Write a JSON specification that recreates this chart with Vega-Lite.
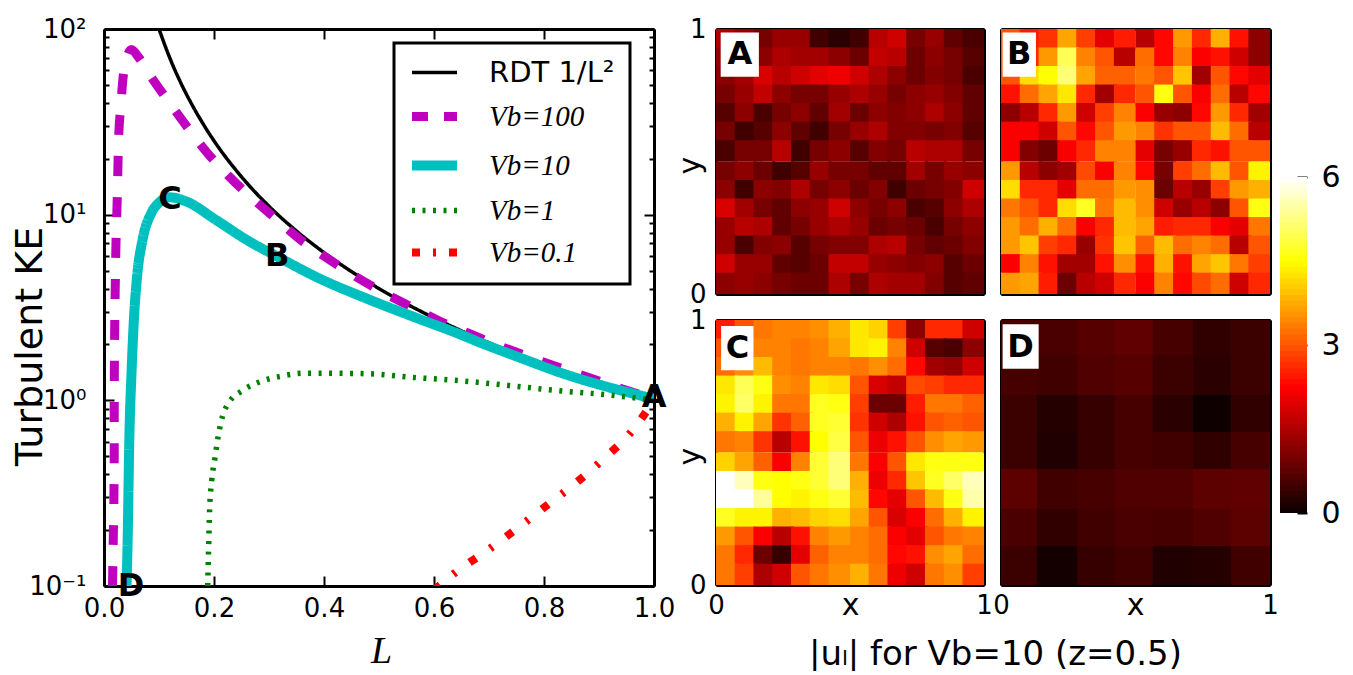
{"$schema":"https://vega.github.io/schema/vega-lite/v6.json","background":"white","padding":{"left":11,"top":16,"right":0,"bottom":0},"bounds":"flush","spacing":62,
"config":{"view":{"stroke":null},"legend":{"strokeWidth":3},"axis":{"domain":true,"domainWidth":3,"domainColor":"black","tickColor":"black","tickWidth":2,"tickSize":-10,"grid":false,"labelFontSize":26,"labelColor":"black","labelFont":"DejaVu Sans","titleFont":"DejaVu Sans","titleColor":"black","titleFontWeight":"normal","zindex":1,"labelBound":false,"labelFlush":false,"labelOverlap":false}},
"datasets":{
"bar":[{"v":0.05},{"v":0.15},{"v":0.25},{"v":0.35},{"v":0.45},{"v":0.55},{"v":0.65},{"v":0.75},{"v":0.85},{"v":0.95},{"v":1.05},{"v":1.15},{"v":1.25},{"v":1.35},{"v":1.45},{"v":1.55},{"v":1.65},{"v":1.75},{"v":1.85},{"v":1.95},{"v":2.05},{"v":2.15},{"v":2.25},{"v":2.35},{"v":2.45},{"v":2.55},{"v":2.65},{"v":2.75},{"v":2.85},{"v":2.95},{"v":3.05},{"v":3.15},{"v":3.25},{"v":3.35},{"v":3.45},{"v":3.55},{"v":3.65},{"v":3.75},{"v":3.85},{"v":3.95},{"v":4.05},{"v":4.15},{"v":4.25},{"v":4.35},{"v":4.45},{"v":4.55},{"v":4.65},{"v":4.75},{"v":4.85},{"v":4.95},{"v":5.05},{"v":5.15},{"v":5.25},{"v":5.35},{"v":5.45},{"v":5.55},{"v":5.65},{"v":5.75},{"v":5.85},{"v":5.95}],
"A":[{"x":0.04,"y":0.96,"v":1.5},{"x":0.11,"y":0.96,"v":1.3},{"x":0.18,"y":0.96,"v":1.0},{"x":0.25,"y":0.96,"v":1.3},{"x":0.32,"y":0.96,"v":1.3},{"x":0.39,"y":0.96,"v":0.5},{"x":0.46,"y":0.96,"v":0.3},{"x":0.54,"y":0.96,"v":0.5},{"x":0.61,"y":0.96,"v":1.6},{"x":0.68,"y":0.96,"v":1.8},{"x":0.75,"y":0.96,"v":1.0},{"x":0.82,"y":0.96,"v":1.3},{"x":0.89,"y":0.96,"v":0.8},{"x":0.96,"y":0.96,"v":0.6},
{"x":0.04,"y":0.89,"v":1.3},{"x":0.11,"y":0.89,"v":1.1},{"x":0.18,"y":0.89,"v":1.2},{"x":0.25,"y":0.89,"v":1.5},{"x":0.32,"y":0.89,"v":1.4},{"x":0.39,"y":0.89,"v":1.4},{"x":0.46,"y":0.89,"v":1.2},{"x":0.54,"y":0.89,"v":0.9},{"x":0.61,"y":0.89,"v":1.7},{"x":0.68,"y":0.89,"v":1.6},{"x":0.75,"y":0.89,"v":0.9},{"x":0.82,"y":0.89,"v":1.2},{"x":0.89,"y":0.89,"v":1.0},{"x":0.96,"y":0.89,"v":0.7},
{"x":0.04,"y":0.82,"v":1.2},{"x":0.11,"y":0.82,"v":1.4},{"x":0.18,"y":0.82,"v":1.9},{"x":0.25,"y":0.82,"v":1.6},{"x":0.32,"y":0.82,"v":1.8},{"x":0.39,"y":0.82,"v":2.0},{"x":0.46,"y":0.82,"v":2.1},{"x":0.54,"y":0.82,"v":1.8},{"x":0.61,"y":0.82,"v":1.5},{"x":0.68,"y":0.82,"v":1.2},{"x":0.75,"y":0.82,"v":0.9},{"x":0.82,"y":0.82,"v":1.1},{"x":0.89,"y":0.82,"v":1.0},{"x":0.96,"y":0.82,"v":0.6},
{"x":0.04,"y":0.75,"v":1.0},{"x":0.11,"y":0.75,"v":1.3},{"x":0.18,"y":0.75,"v":1.7},{"x":0.25,"y":0.75,"v":1.2},{"x":0.32,"y":0.75,"v":1.0},{"x":0.39,"y":0.75,"v":1.0},{"x":0.46,"y":0.75,"v":1.3},{"x":0.54,"y":0.75,"v":1.5},{"x":0.61,"y":0.75,"v":1.3},{"x":0.68,"y":0.75,"v":1.0},{"x":0.75,"y":0.75,"v":1.2},{"x":0.82,"y":0.75,"v":1.3},{"x":0.89,"y":0.75,"v":1.1},{"x":0.96,"y":0.75,"v":0.8},
{"x":0.04,"y":0.68,"v":0.7},{"x":0.11,"y":0.68,"v":1.2},{"x":0.18,"y":0.68,"v":0.6},{"x":0.25,"y":0.68,"v":1.0},{"x":0.32,"y":0.68,"v":1.2},{"x":0.39,"y":0.68,"v":0.8},{"x":0.46,"y":0.68,"v":1.4},{"x":0.54,"y":0.68,"v":0.9},{"x":0.61,"y":0.68,"v":1.2},{"x":0.68,"y":0.68,"v":1.1},{"x":0.75,"y":0.68,"v":1.2},{"x":0.82,"y":0.68,"v":1.5},{"x":0.89,"y":0.68,"v":1.2},{"x":0.96,"y":0.68,"v":0.8},
{"x":0.04,"y":0.61,"v":1.0},{"x":0.11,"y":0.61,"v":0.5},{"x":0.18,"y":0.61,"v":0.7},{"x":0.25,"y":0.61,"v":1.2},{"x":0.32,"y":0.61,"v":0.8},{"x":0.39,"y":0.61,"v":0.5},{"x":0.46,"y":0.61,"v":1.0},{"x":0.54,"y":0.61,"v":1.3},{"x":0.61,"y":0.61,"v":1.5},{"x":0.68,"y":0.61,"v":1.1},{"x":0.75,"y":0.61,"v":1.1},{"x":0.82,"y":0.61,"v":1.0},{"x":0.89,"y":0.61,"v":1.1},{"x":0.96,"y":0.61,"v":0.7},
{"x":0.04,"y":0.54,"v":0.6},{"x":0.11,"y":0.54,"v":1.0},{"x":0.18,"y":0.54,"v":1.0},{"x":0.25,"y":0.54,"v":1.6},{"x":0.32,"y":0.54,"v":0.5},{"x":0.39,"y":0.54,"v":1.0},{"x":0.46,"y":0.54,"v":1.2},{"x":0.54,"y":0.54,"v":0.7},{"x":0.61,"y":0.54,"v":1.1},{"x":0.68,"y":0.54,"v":1.0},{"x":0.75,"y":0.54,"v":1.6},{"x":0.82,"y":0.54,"v":1.5},{"x":0.89,"y":0.54,"v":1.5},{"x":0.96,"y":0.54,"v":1.0},
{"x":0.04,"y":0.46,"v":1.0},{"x":0.11,"y":0.46,"v":1.2},{"x":0.18,"y":0.46,"v":0.9},{"x":0.25,"y":0.46,"v":0.5},{"x":0.32,"y":0.46,"v":0.7},{"x":0.39,"y":0.46,"v":1.3},{"x":0.46,"y":0.46,"v":1.0},{"x":0.54,"y":0.46,"v":1.0},{"x":0.61,"y":0.46,"v":0.8},{"x":0.68,"y":0.46,"v":0.8},{"x":0.75,"y":0.46,"v":1.4},{"x":0.82,"y":0.46,"v":1.0},{"x":0.89,"y":0.46,"v":1.3},{"x":0.96,"y":0.46,"v":1.2},
{"x":0.04,"y":0.39,"v":1.2},{"x":0.11,"y":0.39,"v":0.5},{"x":0.18,"y":0.39,"v":1.2},{"x":0.25,"y":0.39,"v":1.1},{"x":0.32,"y":0.39,"v":1.5},{"x":0.39,"y":0.39,"v":1.0},{"x":0.46,"y":0.39,"v":1.2},{"x":0.54,"y":0.39,"v":0.9},{"x":0.61,"y":0.39,"v":1.1},{"x":0.68,"y":0.39,"v":0.5},{"x":0.75,"y":0.39,"v":0.9},{"x":0.82,"y":0.39,"v":1.0},{"x":0.89,"y":0.39,"v":1.1},{"x":0.96,"y":0.39,"v":1.8},
{"x":0.04,"y":0.32,"v":1.9},{"x":0.11,"y":0.32,"v":1.4},{"x":0.18,"y":0.32,"v":1.0},{"x":0.25,"y":0.32,"v":0.8},{"x":0.32,"y":0.32,"v":1.2},{"x":0.39,"y":0.32,"v":1.3},{"x":0.46,"y":0.32,"v":1.8},{"x":0.54,"y":0.32,"v":1.2},{"x":0.61,"y":0.32,"v":1.0},{"x":0.68,"y":0.32,"v":1.2},{"x":0.75,"y":0.32,"v":0.6},{"x":0.82,"y":0.32,"v":0.7},{"x":0.89,"y":0.32,"v":1.2},{"x":0.96,"y":0.32,"v":1.5},
{"x":0.04,"y":0.25,"v":1.3},{"x":0.11,"y":0.25,"v":1.6},{"x":0.18,"y":0.25,"v":1.5},{"x":0.25,"y":0.25,"v":0.8},{"x":0.32,"y":0.25,"v":1.0},{"x":0.39,"y":0.25,"v":1.3},{"x":0.46,"y":0.25,"v":1.5},{"x":0.54,"y":0.25,"v":1.3},{"x":0.61,"y":0.25,"v":0.9},{"x":0.68,"y":0.25,"v":1.0},{"x":0.75,"y":0.25,"v":0.9},{"x":0.82,"y":0.25,"v":0.6},{"x":0.89,"y":0.25,"v":1.0},{"x":0.96,"y":0.25,"v":1.2},
{"x":0.04,"y":0.18,"v":1.3},{"x":0.11,"y":0.18,"v":0.6},{"x":0.18,"y":0.18,"v":1.1},{"x":0.25,"y":0.18,"v":1.2},{"x":0.32,"y":0.18,"v":0.7},{"x":0.39,"y":0.18,"v":1.0},{"x":0.46,"y":0.18,"v":1.1},{"x":0.54,"y":0.18,"v":1.1},{"x":0.61,"y":0.18,"v":1.5},{"x":0.68,"y":0.18,"v":1.6},{"x":0.75,"y":0.18,"v":1.0},{"x":0.82,"y":0.18,"v":0.8},{"x":0.89,"y":0.18,"v":0.9},{"x":0.96,"y":0.18,"v":1.1},
{"x":0.04,"y":0.11,"v":1.8},{"x":0.11,"y":0.11,"v":1.3},{"x":0.18,"y":0.11,"v":1.3},{"x":0.25,"y":0.11,"v":0.8},{"x":0.32,"y":0.11,"v":0.7},{"x":0.39,"y":0.11,"v":0.9},{"x":0.46,"y":0.11,"v":1.7},{"x":0.54,"y":0.11,"v":1.7},{"x":0.61,"y":0.11,"v":1.3},{"x":0.68,"y":0.11,"v":1.2},{"x":0.75,"y":0.11,"v":1.1},{"x":0.82,"y":0.11,"v":1.2},{"x":0.89,"y":0.11,"v":0.7},{"x":0.96,"y":0.11,"v":0.9},
{"x":0.04,"y":0.04,"v":1.2},{"x":0.11,"y":0.04,"v":1.3},{"x":0.18,"y":0.04,"v":1.2},{"x":0.25,"y":0.04,"v":1.0},{"x":0.32,"y":0.04,"v":0.9},{"x":0.39,"y":0.04,"v":0.9},{"x":0.46,"y":0.04,"v":1.5},{"x":0.54,"y":0.04,"v":1.0},{"x":0.61,"y":0.04,"v":1.5},{"x":0.68,"y":0.04,"v":1.4},{"x":0.75,"y":0.04,"v":1.4},{"x":0.82,"y":0.04,"v":1.1},{"x":0.89,"y":0.04,"v":0.7},{"x":0.96,"y":0.04,"v":0.8}],
"B":[{"x":0.04,"y":0.96,"v":3.0},{"x":0.11,"y":0.96,"v":2.5},{"x":0.18,"y":0.96,"v":2.7},{"x":0.25,"y":0.96,"v":3.7},{"x":0.32,"y":0.96,"v":2.8},{"x":0.39,"y":0.96,"v":2.0},{"x":0.46,"y":0.96,"v":2.5},{"x":0.54,"y":0.96,"v":1.6},{"x":0.61,"y":0.96,"v":2.3},{"x":0.68,"y":0.96,"v":3.6},{"x":0.75,"y":0.96,"v":2.6},{"x":0.82,"y":0.96,"v":3.8},{"x":0.89,"y":0.96,"v":2.4},{"x":0.96,"y":0.96,"v":1.2},
{"x":0.04,"y":0.89,"v":3.0},{"x":0.11,"y":0.89,"v":2.6},{"x":0.18,"y":0.89,"v":3.6},{"x":0.25,"y":0.89,"v":5.0},{"x":0.32,"y":0.89,"v":3.4},{"x":0.39,"y":0.89,"v":3.0},{"x":0.46,"y":0.89,"v":1.6},{"x":0.54,"y":0.89,"v":3.2},{"x":0.61,"y":0.89,"v":2.3},{"x":0.68,"y":0.89,"v":3.4},{"x":0.75,"y":0.89,"v":2.2},{"x":0.82,"y":0.89,"v":2.4},{"x":0.89,"y":0.89,"v":1.8},{"x":0.96,"y":0.89,"v":1.2},
{"x":0.04,"y":0.82,"v":3.0},{"x":0.11,"y":0.82,"v":4.2},{"x":0.18,"y":0.82,"v":4.5},{"x":0.25,"y":0.82,"v":5.2},{"x":0.32,"y":0.82,"v":3.7},{"x":0.39,"y":0.82,"v":3.1},{"x":0.46,"y":0.82,"v":3.1},{"x":0.54,"y":0.82,"v":3.3},{"x":0.61,"y":0.82,"v":3.0},{"x":0.68,"y":0.82,"v":4.0},{"x":0.75,"y":0.82,"v":1.4},{"x":0.82,"y":0.82,"v":3.0},{"x":0.89,"y":0.82,"v":2.3},{"x":0.96,"y":0.82,"v":2.0},
{"x":0.04,"y":0.75,"v":2.4},{"x":0.11,"y":0.75,"v":3.2},{"x":0.18,"y":0.75,"v":3.7},{"x":0.25,"y":0.75,"v":4.3},{"x":0.32,"y":0.75,"v":2.6},{"x":0.39,"y":0.75,"v":1.4},{"x":0.46,"y":0.75,"v":2.6},{"x":0.54,"y":0.75,"v":3.0},{"x":0.61,"y":0.75,"v":4.6},{"x":0.68,"y":0.75,"v":3.0},{"x":0.75,"y":0.75,"v":2.2},{"x":0.82,"y":0.75,"v":3.2},{"x":0.89,"y":0.75,"v":1.6},{"x":0.96,"y":0.75,"v":2.3},
{"x":0.04,"y":0.68,"v":1.2},{"x":0.11,"y":0.68,"v":1.6},{"x":0.18,"y":0.68,"v":2.6},{"x":0.25,"y":0.68,"v":3.6},{"x":0.32,"y":0.68,"v":1.8},{"x":0.39,"y":0.68,"v":2.8},{"x":0.46,"y":0.68,"v":3.4},{"x":0.54,"y":0.68,"v":2.2},{"x":0.61,"y":0.68,"v":1.3},{"x":0.68,"y":0.68,"v":1.2},{"x":0.75,"y":0.68,"v":2.3},{"x":0.82,"y":0.68,"v":3.6},{"x":0.89,"y":0.68,"v":2.6},{"x":0.96,"y":0.68,"v":1.4},
{"x":0.04,"y":0.61,"v":2.2},{"x":0.11,"y":0.61,"v":2.2},{"x":0.18,"y":0.61,"v":1.8},{"x":0.25,"y":0.61,"v":3.0},{"x":0.32,"y":0.61,"v":2.3},{"x":0.39,"y":0.61,"v":3.0},{"x":0.46,"y":0.61,"v":3.6},{"x":0.54,"y":0.61,"v":3.4},{"x":0.61,"y":0.61,"v":2.7},{"x":0.68,"y":0.61,"v":3.0},{"x":0.75,"y":0.61,"v":3.0},{"x":0.82,"y":0.61,"v":3.9},{"x":0.89,"y":0.61,"v":3.2},{"x":0.96,"y":0.61,"v":1.6},
{"x":0.04,"y":0.54,"v":2.2},{"x":0.11,"y":0.54,"v":1.1},{"x":0.18,"y":0.54,"v":0.9},{"x":0.25,"y":0.54,"v":2.2},{"x":0.32,"y":0.54,"v":2.6},{"x":0.39,"y":0.54,"v":3.4},{"x":0.46,"y":0.54,"v":3.4},{"x":0.54,"y":0.54,"v":2.0},{"x":0.61,"y":0.54,"v":1.0},{"x":0.68,"y":0.54,"v":1.3},{"x":0.75,"y":0.54,"v":2.6},{"x":0.82,"y":0.54,"v":2.4},{"x":0.89,"y":0.54,"v":3.0},{"x":0.96,"y":0.54,"v":3.0},
{"x":0.04,"y":0.46,"v":3.6},{"x":0.11,"y":0.46,"v":1.6},{"x":0.18,"y":0.46,"v":1.2},{"x":0.25,"y":0.46,"v":1.4},{"x":0.32,"y":0.46,"v":2.9},{"x":0.39,"y":0.46,"v":2.2},{"x":0.46,"y":0.46,"v":3.4},{"x":0.54,"y":0.46,"v":2.3},{"x":0.61,"y":0.46,"v":1.0},{"x":0.68,"y":0.46,"v":2.8},{"x":0.75,"y":0.46,"v":3.2},{"x":0.82,"y":0.46,"v":3.9},{"x":0.89,"y":0.46,"v":3.0},{"x":0.96,"y":0.46,"v":4.4},
{"x":0.04,"y":0.39,"v":4.2},{"x":0.11,"y":0.39,"v":2.6},{"x":0.18,"y":0.39,"v":2.6},{"x":0.25,"y":0.39,"v":2.0},{"x":0.32,"y":0.39,"v":3.2},{"x":0.39,"y":0.39,"v":3.2},{"x":0.46,"y":0.39,"v":3.6},{"x":0.54,"y":0.39,"v":3.5},{"x":0.61,"y":0.39,"v":0.9},{"x":0.68,"y":0.39,"v":1.6},{"x":0.75,"y":0.39,"v":1.3},{"x":0.82,"y":0.39,"v":2.8},{"x":0.89,"y":0.39,"v":3.6},{"x":0.96,"y":0.39,"v":3.8},
{"x":0.04,"y":0.32,"v":3.3},{"x":0.11,"y":0.32,"v":3.0},{"x":0.18,"y":0.32,"v":2.6},{"x":0.25,"y":0.32,"v":4.2},{"x":0.32,"y":0.32,"v":4.7},{"x":0.39,"y":0.32,"v":3.3},{"x":0.46,"y":0.32,"v":3.9},{"x":0.54,"y":0.32,"v":3.5},{"x":0.61,"y":0.32,"v":1.8},{"x":0.68,"y":0.32,"v":1.3},{"x":0.75,"y":0.32,"v":1.6},{"x":0.82,"y":0.32,"v":1.2},{"x":0.89,"y":0.32,"v":3.0},{"x":0.96,"y":0.32,"v":4.6},
{"x":0.04,"y":0.25,"v":3.6},{"x":0.11,"y":0.25,"v":3.2},{"x":0.18,"y":0.25,"v":3.8},{"x":0.25,"y":0.25,"v":3.2},{"x":0.32,"y":0.25,"v":2.2},{"x":0.39,"y":0.25,"v":2.6},{"x":0.46,"y":0.25,"v":3.9},{"x":0.54,"y":0.25,"v":3.7},{"x":0.61,"y":0.25,"v":2.5},{"x":0.68,"y":0.25,"v":2.6},{"x":0.75,"y":0.25,"v":2.6},{"x":0.82,"y":0.25,"v":2.2},{"x":0.89,"y":0.25,"v":2.0},{"x":0.96,"y":0.25,"v":3.3},
{"x":0.04,"y":0.18,"v":3.6},{"x":0.11,"y":0.18,"v":4.0},{"x":0.18,"y":0.18,"v":2.8},{"x":0.25,"y":0.18,"v":2.6},{"x":0.32,"y":0.18,"v":1.3},{"x":0.39,"y":0.18,"v":2.7},{"x":0.46,"y":0.18,"v":4.0},{"x":0.54,"y":0.18,"v":3.1},{"x":0.61,"y":0.18,"v":3.9},{"x":0.68,"y":0.18,"v":3.2},{"x":0.75,"y":0.18,"v":3.4},{"x":0.82,"y":0.18,"v":3.2},{"x":0.89,"y":0.18,"v":1.6},{"x":0.96,"y":0.18,"v":3.0},
{"x":0.04,"y":0.11,"v":2.2},{"x":0.11,"y":0.11,"v":3.4},{"x":0.18,"y":0.11,"v":2.4},{"x":0.25,"y":0.11,"v":1.4},{"x":0.32,"y":0.11,"v":1.4},{"x":0.39,"y":0.11,"v":2.4},{"x":0.46,"y":0.11,"v":3.5},{"x":0.54,"y":0.11,"v":2.4},{"x":0.61,"y":0.11,"v":3.8},{"x":0.68,"y":0.11,"v":2.4},{"x":0.75,"y":0.11,"v":3.7},{"x":0.82,"y":0.11,"v":4.0},{"x":0.89,"y":0.11,"v":3.3},{"x":0.96,"y":0.11,"v":2.8},
{"x":0.04,"y":0.04,"v":3.6},{"x":0.11,"y":0.04,"v":3.7},{"x":0.18,"y":0.04,"v":2.5},{"x":0.25,"y":0.04,"v":0.9},{"x":0.32,"y":0.04,"v":1.6},{"x":0.39,"y":0.04,"v":1.8},{"x":0.46,"y":0.04,"v":2.6},{"x":0.54,"y":0.04,"v":2.2},{"x":0.61,"y":0.04,"v":3.4},{"x":0.68,"y":0.04,"v":2.3},{"x":0.75,"y":0.04,"v":2.9},{"x":0.82,"y":0.04,"v":3.2},{"x":0.89,"y":0.04,"v":1.8},{"x":0.96,"y":0.04,"v":2.6}],
"C":[{"x":0.04,"y":0.96,"v":2.5},{"x":0.11,"y":0.96,"v":3.0},{"x":0.18,"y":0.96,"v":3.3},{"x":0.25,"y":0.96,"v":3.4},{"x":0.32,"y":0.96,"v":3.4},{"x":0.39,"y":0.96,"v":3.5},{"x":0.46,"y":0.96,"v":3.8},{"x":0.54,"y":0.96,"v":4.3},{"x":0.61,"y":0.96,"v":4.1},{"x":0.68,"y":0.96,"v":2.8},{"x":0.75,"y":0.96,"v":1.2},{"x":0.82,"y":0.96,"v":2.6},{"x":0.89,"y":0.96,"v":2.6},{"x":0.96,"y":0.96,"v":1.8},
{"x":0.04,"y":0.89,"v":3.0},{"x":0.11,"y":0.89,"v":3.3},{"x":0.18,"y":0.89,"v":3.4},{"x":0.25,"y":0.89,"v":3.4},{"x":0.32,"y":0.89,"v":3.3},{"x":0.39,"y":0.89,"v":3.4},{"x":0.46,"y":0.89,"v":3.7},{"x":0.54,"y":0.89,"v":4.3},{"x":0.61,"y":0.89,"v":4.4},{"x":0.68,"y":0.89,"v":3.4},{"x":0.75,"y":0.89,"v":1.8},{"x":0.82,"y":0.89,"v":0.7},{"x":0.89,"y":0.89,"v":0.6},{"x":0.96,"y":0.89,"v":1.2},
{"x":0.04,"y":0.82,"v":3.2},{"x":0.11,"y":0.82,"v":3.5},{"x":0.18,"y":0.82,"v":3.9},{"x":0.25,"y":0.82,"v":3.4},{"x":0.32,"y":0.82,"v":3.3},{"x":0.39,"y":0.82,"v":3.4},{"x":0.46,"y":0.82,"v":3.4},{"x":0.54,"y":0.82,"v":3.3},{"x":0.61,"y":0.82,"v":3.5},{"x":0.68,"y":0.82,"v":3.2},{"x":0.75,"y":0.82,"v":2.3},{"x":0.82,"y":0.82,"v":1.4},{"x":0.89,"y":0.82,"v":1.3},{"x":0.96,"y":0.82,"v":1.8},
{"x":0.04,"y":0.75,"v":4.3},{"x":0.11,"y":0.75,"v":5.0},{"x":0.18,"y":0.75,"v":4.6},{"x":0.25,"y":0.75,"v":3.5},{"x":0.32,"y":0.75,"v":3.4},{"x":0.39,"y":0.75,"v":4.3},{"x":0.46,"y":0.75,"v":4.2},{"x":0.54,"y":0.75,"v":3.0},{"x":0.61,"y":0.75,"v":1.9},{"x":0.68,"y":0.75,"v":1.7},{"x":0.75,"y":0.75,"v":2.9},{"x":0.82,"y":0.75,"v":2.8},{"x":0.89,"y":0.75,"v":2.6},{"x":0.96,"y":0.75,"v":2.6},
{"x":0.04,"y":0.68,"v":4.4},{"x":0.11,"y":0.68,"v":5.1},{"x":0.18,"y":0.68,"v":4.4},{"x":0.25,"y":0.68,"v":3.3},{"x":0.32,"y":0.68,"v":3.3},{"x":0.39,"y":0.68,"v":4.7},{"x":0.46,"y":0.68,"v":4.6},{"x":0.54,"y":0.68,"v":2.8},{"x":0.61,"y":0.68,"v":0.9},{"x":0.68,"y":0.68,"v":0.9},{"x":0.75,"y":0.68,"v":2.5},{"x":0.82,"y":0.68,"v":3.3},{"x":0.89,"y":0.68,"v":3.3},{"x":0.96,"y":0.68,"v":3.1},
{"x":0.04,"y":0.61,"v":3.8},{"x":0.11,"y":0.61,"v":4.4},{"x":0.18,"y":0.61,"v":3.7},{"x":0.25,"y":0.61,"v":2.7},{"x":0.32,"y":0.61,"v":3.1},{"x":0.39,"y":0.61,"v":4.7},{"x":0.46,"y":0.61,"v":4.8},{"x":0.54,"y":0.61,"v":2.7},{"x":0.61,"y":0.61,"v":1.8},{"x":0.68,"y":0.61,"v":1.5},{"x":0.75,"y":0.61,"v":2.4},{"x":0.82,"y":0.61,"v":3.0},{"x":0.89,"y":0.61,"v":3.1},{"x":0.96,"y":0.61,"v":3.0},
{"x":0.04,"y":0.54,"v":3.3},{"x":0.11,"y":0.54,"v":3.4},{"x":0.18,"y":0.54,"v":2.7},{"x":0.25,"y":0.54,"v":1.6},{"x":0.32,"y":0.54,"v":2.4},{"x":0.39,"y":0.54,"v":4.5},{"x":0.46,"y":0.54,"v":4.9},{"x":0.54,"y":0.54,"v":3.0},{"x":0.61,"y":0.54,"v":2.1},{"x":0.68,"y":0.54,"v":2.4},{"x":0.75,"y":0.54,"v":3.0},{"x":0.82,"y":0.54,"v":3.5},{"x":0.89,"y":0.54,"v":3.7},{"x":0.96,"y":0.54,"v":3.6},
{"x":0.04,"y":0.46,"v":4.1},{"x":0.11,"y":0.46,"v":3.7},{"x":0.18,"y":0.46,"v":3.1},{"x":0.25,"y":0.46,"v":2.2},{"x":0.32,"y":0.46,"v":3.4},{"x":0.39,"y":0.46,"v":4.8},{"x":0.46,"y":0.46,"v":5.2},{"x":0.54,"y":0.46,"v":3.3},{"x":0.61,"y":0.46,"v":2.2},{"x":0.68,"y":0.46,"v":3.0},{"x":0.75,"y":0.46,"v":4.3},{"x":0.82,"y":0.46,"v":4.6},{"x":0.89,"y":0.46,"v":4.6},{"x":0.96,"y":0.46,"v":4.6},
{"x":0.04,"y":0.39,"v":6.0},{"x":0.11,"y":0.39,"v":5.6},{"x":0.18,"y":0.39,"v":4.6},{"x":0.25,"y":0.39,"v":4.5},{"x":0.32,"y":0.39,"v":4.6},{"x":0.39,"y":0.39,"v":4.8},{"x":0.46,"y":0.39,"v":5.2},{"x":0.54,"y":0.39,"v":3.8},{"x":0.61,"y":0.39,"v":2.1},{"x":0.68,"y":0.39,"v":2.6},{"x":0.75,"y":0.39,"v":4.0},{"x":0.82,"y":0.39,"v":4.7},{"x":0.89,"y":0.39,"v":5.1},{"x":0.96,"y":0.39,"v":5.6},
{"x":0.04,"y":0.32,"v":6.0},{"x":0.11,"y":0.32,"v":6.0},{"x":0.18,"y":0.32,"v":5.4},{"x":0.25,"y":0.32,"v":4.5},{"x":0.32,"y":0.32,"v":4.4},{"x":0.39,"y":0.32,"v":4.6},{"x":0.46,"y":0.32,"v":4.8},{"x":0.54,"y":0.32,"v":3.9},{"x":0.61,"y":0.32,"v":2.3},{"x":0.68,"y":0.32,"v":2.0},{"x":0.75,"y":0.32,"v":3.0},{"x":0.82,"y":0.32,"v":3.9},{"x":0.89,"y":0.32,"v":4.6},{"x":0.96,"y":0.32,"v":5.5},
{"x":0.04,"y":0.25,"v":4.7},{"x":0.11,"y":0.25,"v":4.4},{"x":0.18,"y":0.25,"v":4.4},{"x":0.25,"y":0.25,"v":3.8},{"x":0.32,"y":0.25,"v":3.9},{"x":0.39,"y":0.25,"v":4.1},{"x":0.46,"y":0.25,"v":4.2},{"x":0.54,"y":0.25,"v":3.7},{"x":0.61,"y":0.25,"v":3.0},{"x":0.68,"y":0.25,"v":1.9},{"x":0.75,"y":0.25,"v":2.2},{"x":0.82,"y":0.25,"v":3.2},{"x":0.89,"y":0.25,"v":3.8},{"x":0.96,"y":0.25,"v":4.4},
{"x":0.04,"y":0.18,"v":3.6},{"x":0.11,"y":0.18,"v":3.0},{"x":0.18,"y":0.18,"v":2.2},{"x":0.25,"y":0.18,"v":1.6},{"x":0.32,"y":0.18,"v":2.4},{"x":0.39,"y":0.18,"v":3.4},{"x":0.46,"y":0.18,"v":3.6},{"x":0.54,"y":0.18,"v":3.4},{"x":0.61,"y":0.18,"v":3.2},{"x":0.68,"y":0.18,"v":2.2},{"x":0.75,"y":0.18,"v":2.0},{"x":0.82,"y":0.18,"v":3.0},{"x":0.89,"y":0.18,"v":3.3},{"x":0.96,"y":0.18,"v":3.4},
{"x":0.04,"y":0.11,"v":3.3},{"x":0.11,"y":0.11,"v":2.6},{"x":0.18,"y":0.11,"v":0.9},{"x":0.25,"y":0.11,"v":0.4},{"x":0.32,"y":0.11,"v":2.0},{"x":0.39,"y":0.11,"v":3.1},{"x":0.46,"y":0.11,"v":3.4},{"x":0.54,"y":0.11,"v":3.4},{"x":0.61,"y":0.11,"v":3.2},{"x":0.68,"y":0.11,"v":2.3},{"x":0.75,"y":0.11,"v":2.4},{"x":0.82,"y":0.11,"v":3.5},{"x":0.89,"y":0.11,"v":3.7},{"x":0.96,"y":0.11,"v":3.2},
{"x":0.04,"y":0.04,"v":3.3},{"x":0.11,"y":0.04,"v":2.8},{"x":0.18,"y":0.04,"v":1.5},{"x":0.25,"y":0.04,"v":1.8},{"x":0.32,"y":0.04,"v":3.0},{"x":0.39,"y":0.04,"v":3.3},{"x":0.46,"y":0.04,"v":3.5},{"x":0.54,"y":0.04,"v":3.8},{"x":0.61,"y":0.04,"v":3.3},{"x":0.68,"y":0.04,"v":2.1},{"x":0.75,"y":0.04,"v":1.8},{"x":0.82,"y":0.04,"v":3.3},{"x":0.89,"y":0.04,"v":3.5},{"x":0.96,"y":0.04,"v":2.8}],
"D":[{"x":0.07,"y":0.93,"v":0.55},{"x":0.21,"y":0.93,"v":0.6},{"x":0.36,"y":0.93,"v":0.7},{"x":0.5,"y":0.93,"v":0.8},{"x":0.64,"y":0.93,"v":0.55},{"x":0.79,"y":0.93,"v":0.35},{"x":0.93,"y":0.93,"v":0.45},
{"x":0.07,"y":0.79,"v":0.55},{"x":0.21,"y":0.79,"v":0.5},{"x":0.36,"y":0.79,"v":0.65},{"x":0.5,"y":0.79,"v":0.7},{"x":0.64,"y":0.79,"v":0.45},{"x":0.79,"y":0.79,"v":0.3},{"x":0.93,"y":0.79,"v":0.45},
{"x":0.07,"y":0.64,"v":0.45},{"x":0.21,"y":0.64,"v":0.25},{"x":0.36,"y":0.64,"v":0.4},{"x":0.5,"y":0.64,"v":0.55},{"x":0.64,"y":0.64,"v":0.3},{"x":0.79,"y":0.64,"v":0.05},{"x":0.93,"y":0.64,"v":0.35},
{"x":0.07,"y":0.5,"v":0.45},{"x":0.21,"y":0.5,"v":0.2},{"x":0.36,"y":0.5,"v":0.4},{"x":0.5,"y":0.5,"v":0.55},{"x":0.64,"y":0.5,"v":0.5},{"x":0.79,"y":0.5,"v":0.35},{"x":0.93,"y":0.5,"v":0.55},
{"x":0.07,"y":0.36,"v":0.75},{"x":0.21,"y":0.36,"v":0.5},{"x":0.36,"y":0.36,"v":0.55},{"x":0.5,"y":0.36,"v":0.65},{"x":0.64,"y":0.36,"v":0.65},{"x":0.79,"y":0.36,"v":0.75},{"x":0.93,"y":0.36,"v":0.8},
{"x":0.07,"y":0.21,"v":0.6},{"x":0.21,"y":0.21,"v":0.35},{"x":0.36,"y":0.21,"v":0.5},{"x":0.5,"y":0.21,"v":0.6},{"x":0.64,"y":0.21,"v":0.55},{"x":0.79,"y":0.21,"v":0.65},{"x":0.93,"y":0.21,"v":0.75},
{"x":0.07,"y":0.07,"v":0.45},{"x":0.21,"y":0.07,"v":0.1},{"x":0.36,"y":0.07,"v":0.4},{"x":0.5,"y":0.07,"v":0.5},{"x":0.64,"y":0.07,"v":0.2},{"x":0.79,"y":0.07,"v":0.25},{"x":0.93,"y":0.07,"v":0.5}],
"L":[{"s":"RDT 1/L²","x":0.1,"y":100},{"s":"RDT 1/L²","x":0.12,"y":69.4},{"s":"RDT 1/L²","x":0.14,"y":51},{"s":"RDT 1/L²","x":0.16,"y":39.1},{"s":"RDT 1/L²","x":0.18,"y":30.9},{"s":"RDT 1/L²","x":0.2,"y":25},{"s":"RDT 1/L²","x":0.25,"y":16},{"s":"RDT 1/L²","x":0.3,"y":11.1},{"s":"RDT 1/L²","x":0.35,"y":8.16},{"s":"RDT 1/L²","x":0.4,"y":6.25},{"s":"RDT 1/L²","x":0.5,"y":4},{"s":"RDT 1/L²","x":0.6,"y":2.78},{"s":"RDT 1/L²","x":0.7,"y":2.04},{"s":"RDT 1/L²","x":0.8,"y":1.56},{"s":"RDT 1/L²","x":0.9,"y":1.23},{"s":"RDT 1/L²","x":1,"y":1},
{"s":"Vb=100","x":0.0155,"y":0.1},{"s":"Vb=100","x":0.0164,"y":0.15},{"s":"Vb=100","x":0.0186,"y":0.49},{"s":"Vb=100","x":0.0186,"y":1.07},{"s":"Vb=100","x":0.021,"y":5.2},{"s":"Vb=100","x":0.024,"y":12},{"s":"Vb=100","x":0.0265,"y":25.2},{"s":"Vb=100","x":0.0304,"y":38.1},{"s":"Vb=100","x":0.036,"y":58.7},{"s":"Vb=100","x":0.05,"y":77.6},{"s":"Vb=100","x":0.062,"y":71},{"s":"Vb=100","x":0.0855,"y":55.3},{"s":"Vb=100","x":0.1175,"y":40.6},{"s":"Vb=100","x":0.153,"y":29.2},{"s":"Vb=100","x":0.1885,"y":21.4},{"s":"Vb=100","x":0.228,"y":16},{"s":"Vb=100","x":0.27,"y":12.2},{"s":"Vb=100","x":0.3127,"y":9.5},{"s":"Vb=100","x":0.358,"y":7.3},{"s":"Vb=100","x":0.406,"y":5.83},{"s":"Vb=100","x":0.453,"y":4.73},{"s":"Vb=100","x":0.505,"y":3.85},{"s":"Vb=100","x":0.556,"y":3.22},{"s":"Vb=100","x":0.607,"y":2.7},{"s":"Vb=100","x":0.658,"y":2.33},{"s":"Vb=100","x":0.714,"y":1.99},{"s":"Vb=100","x":0.769,"y":1.73},{"s":"Vb=100","x":0.825,"y":1.51},{"s":"Vb=100","x":0.88,"y":1.33},{"s":"Vb=100","x":0.931,"y":1.18},{"s":"Vb=100","x":1,"y":1.02},
{"s":"Vb=10","x":0.041,"y":0.1},{"s":"Vb=10","x":0.043,"y":0.177},{"s":"Vb=10","x":0.046,"y":0.61},{"s":"Vb=10","x":0.05,"y":1.4},{"s":"Vb=10","x":0.054,"y":2.6},{"s":"Vb=10","x":0.06,"y":4.6},{"s":"Vb=10","x":0.07,"y":7.3},{"s":"Vb=10","x":0.086,"y":10.2},{"s":"Vb=10","x":0.1,"y":11.6},{"s":"Vb=10","x":0.119,"y":12.4},{"s":"Vb=10","x":0.149,"y":11.8},{"s":"Vb=10","x":0.204,"y":9.35},{"s":"Vb=10","x":0.26,"y":7.3},{"s":"Vb=10","x":0.315,"y":5.95},{"s":"Vb=10","x":0.394,"y":4.5},{"s":"Vb=10","x":0.481,"y":3.5},{"s":"Vb=10","x":0.568,"y":2.78},{"s":"Vb=10","x":0.647,"y":2.27},{"s":"Vb=10","x":0.678,"y":2.08},{"s":"Vb=10","x":0.758,"y":1.69},{"s":"Vb=10","x":0.836,"y":1.39},{"s":"Vb=10","x":0.916,"y":1.18},{"s":"Vb=10","x":1,"y":1.02},
{"s":"Vb=1","x":0.1885,"y":0.1},{"s":"Vb=1","x":0.19,"y":0.15},{"s":"Vb=1","x":0.192,"y":0.256},{"s":"Vb=1","x":0.196,"y":0.372},{"s":"Vb=1","x":0.202,"y":0.495},{"s":"Vb=1","x":0.208,"y":0.65},{"s":"Vb=1","x":0.216,"y":0.83},{"s":"Vb=1","x":0.228,"y":0.98},{"s":"Vb=1","x":0.252,"y":1.13},{"s":"Vb=1","x":0.284,"y":1.26},{"s":"Vb=1","x":0.323,"y":1.35},{"s":"Vb=1","x":0.362,"y":1.4},{"s":"Vb=1","x":0.402,"y":1.4},{"s":"Vb=1","x":0.481,"y":1.39},{"s":"Vb=1","x":0.56,"y":1.33},{"s":"Vb=1","x":0.655,"y":1.27},{"s":"Vb=1","x":0.75,"y":1.19},{"s":"Vb=1","x":0.836,"y":1.12},{"s":"Vb=1","x":0.916,"y":1.07},{"s":"Vb=1","x":1,"y":1},
{"s":"Vb=0.1","x":0.6,"y":0.095},{"s":"Vb=0.1","x":0.64,"y":0.119},{"s":"Vb=0.1","x":0.695,"y":0.154},{"s":"Vb=0.1","x":0.75,"y":0.203},{"s":"Vb=0.1","x":0.804,"y":0.27},{"s":"Vb=0.1","x":0.858,"y":0.359},{"s":"Vb=0.1","x":0.908,"y":0.483},{"s":"Vb=0.1","x":0.957,"y":0.667},{"s":"Vb=0.1","x":1,"y":1}]},
"hconcat":[
{"width":550,"height":557,
"encoding":{"color":{"field":"s","type":"nominal","scale":{"domain":["RDT 1/L²","Vb=100","Vb=10","Vb=1","Vb=0.1"],"range":["#000000","#bf00bf","#00bfbf","#008000","#ff0000"]},"legend":{"title":null,"orient":"none","legendX":290,"legendY":14,"fillColor":"white","strokeColor":"black","symbolType":"stroke","symbolSize":2025,"symbolOffset":11,"labelOffset":40,"labelFontSize":29,"labelFont":"Liberation Serif","labelFontStyle":"italic","labelColor":"black","labelLimit":300,"padding":15,"rowPadding":10,"encoding":{"labels":{"font":{"value":{"expr":"datum.label[0]=='R'?'DejaVu Sans':'Liberation Serif'"}},"fontStyle":{"value":{"expr":"datum.label[0]=='R'?'normal':'italic'"}}},"symbols":{"strokeWidth":{"value":{"expr":"datum.value=='Vb=100'?9:datum.value=='Vb=10'?10:datum.value=='Vb=1'?5.5:datum.value=='Vb=0.1'?8:3.5"}},"strokeDash":{"value":{"expr":"datum.value=='Vb=100'?[16,16]:datum.value=='Vb=1'?[3,7.5]:datum.value=='Vb=0.1'?[8,13,3,13]:[1,0]"}}}}}},
"strokeDash":{"field":"s","type":"nominal","scale":{"domain":["RDT 1/L²","Vb=100","Vb=10","Vb=1","Vb=0.1"],"range":[[1,0],[20,21],[1,0],[3,7.5],[8,17,3,17]]},"legend":null},
"strokeWidth":{"field":"s","type":"nominal","scale":{"type":"ordinal","domain":["RDT 1/L²","Vb=100","Vb=10","Vb=1","Vb=0.1"],"range":[3.5,9,10,5.5,8]},"legend":null}},
"layer":[
{"data":{"name":"L"},"transform":[{"filter":"datum.s[0]=='R'"}],"mark":{"type":"line","clip":true,"interpolate":"monotone"},"encoding":{"x":{"field":"x","type":"quantitative","scale":{"domain":[0,1],"nice":false},"axis":{"values":[0,0.2,0.4,0.6,0.8,1],"format":".1f","labelPadding":19,"title":"L","titleFont":"Liberation Serif","titleFontStyle":"italic","titleFontSize":38,"titleX":277,"titleY":46}},"y":{"field":"y","type":"quantitative","scale":{"type":"log","domain":[0.1,100],"nice":false},"axis":{"values":[0.1,1,10,100],"labelPadding":28,"labelExpr":"datum.value==100?'10²':datum.value==10?'10¹':datum.value==1?'10⁰':'10⁻¹'","title":"Turbulent KE","titleFontSize":38,"titleY":317,"titleX":-55}}}},
{"data":{"name":"L"},"transform":[{"filter":"datum.s=='Vb=100'"}],"mark":{"type":"line","clip":true,"interpolate":"monotone"},"encoding":{"x":{"field":"x","type":"quantitative","axis":{"orient":"top","values":[0,0.2,0.4,0.6,0.8,1],"labels":false,"title":null}},"y":{"field":"y","type":"quantitative","axis":{"orient":"right","values":[0.1,1,10,100],"labels":false,"title":null}}}},
{"data":{"name":"L"},"transform":[{"filter":"datum.s=='Vb=10'"}],"mark":{"type":"line","clip":true,"interpolate":"monotone"},"encoding":{"x":{"field":"x","type":"quantitative","axis":null},"y":{"field":"y","type":"quantitative","axis":{"orient":"left","values":[0.2,0.3,0.4,0.5,0.6,0.7,0.8,0.9,2,3,4,5,6,7,8,9,20,30,40,50,60,70,80,90],"tickSize":-5,"labels":false,"domain":false,"title":null}}}},
{"data":{"name":"L"},"transform":[{"filter":"datum.s=='Vb=1'"}],"mark":{"type":"line","clip":true,"interpolate":"monotone"},"encoding":{"x":{"field":"x","type":"quantitative","axis":null},"y":{"field":"y","type":"quantitative","axis":{"orient":"right","values":[0.2,0.3,0.4,0.5,0.6,0.7,0.8,0.9,2,3,4,5,6,7,8,9,20,30,40,50,60,70,80,90],"tickSize":-5,"labels":false,"domain":false,"title":null}}}},
{"data":{"name":"L"},"transform":[{"filter":"datum.s=='Vb=0.1'"}],"mark":{"type":"line","clip":true,"interpolate":"monotone"},"encoding":{"x":{"field":"x","type":"quantitative","axis":null},"y":{"field":"y","type":"quantitative","axis":null}}},
{"data":{"values":[{"t":"A","x":1,"y":1.04},{"t":"B","x":0.315,"y":5.98},{"t":"C","x":0.12,"y":12.2},{"t":"D","x":0.049,"y":0.1}]},"mark":{"type":"text","fontSize":32,"fontWeight":"bold","font":"DejaVu Sans","color":"black","baseline":"middle"},"encoding":{"x":{"field":"x","type":"quantitative","axis":null},"y":{"field":"y","type":"quantitative","axis":null},"text":{"field":"t"},"color":{"value":"black"},"strokeDash":{"value":[1,0]},"strokeWidth":{"value":0}}}
],
"resolve":{"axis":{"x":"independent","y":"independent"}}},
{"spacing":291,"bounds":"flush","vconcat":[
{"spacing":17,"bounds":"flush","hconcat":[
{"width":268,"height":265,"layer":[
{"data":{"name":"A"},"mark":{"type":"rect","width":21.6,"height":21.4,"clip":true},"encoding":{"x":{"field":"x","type":"quantitative","scale":{"domain":[0,1],"nice":false},"axis":{"values":[0,0.2,0.4,0.6,0.8,1],"labels":false,"title":null}},"y":{"field":"y","type":"quantitative","scale":{"domain":[0,1],"nice":false},"axis":{"values":[0,0.2,0.4,0.6,0.8,1],"labelPadding":20,"labelExpr":"datum.value==0||datum.value==1?datum.value:''","title":"y","titleFontSize":30,"titleX":-11,"titleY":136}},"color":{"field":"v","type":"quantitative","scale":{"domain":[0,2.25,4.5,6],"range":["#0a0000","#ff0000","#ffff00","#ffffff"],"interpolate":"rgb"},"legend":null}}},
{"data":{"values":[{"x0":0.0175,"x1":0.16,"y0":0.82,"y1":0.987}]},"mark":{"type":"rect","fill":"white"},"encoding":{"x":{"field":"x0","type":"quantitative","axis":{"orient":"top","values":[0,0.2,0.4,0.6,0.8,1],"labels":false,"title":null}},"x2":{"field":"x1"},"y":{"field":"y0","type":"quantitative","axis":{"orient":"right","values":[0,0.2,0.4,0.6,0.8,1],"labels":false,"title":null}},"y2":{"field":"y1"}}},
{"data":{"values":[{"t":"A","x":0.089,"y":0.905}]},"mark":{"type":"text","fontSize":32,"fontWeight":"bold","font":"DejaVu Sans","color":"black","baseline":"middle"},"encoding":{"x":{"field":"x","type":"quantitative","axis":null},"y":{"field":"y","type":"quantitative","axis":null},"text":{"field":"t"}}}
],"resolve":{"axis":{"x":"independent","y":"independent"}}},
{"spacing":10,"bounds":"flush","hconcat":[
{"width":269,"height":265,"layer":[
{"data":{"name":"B"},"mark":{"type":"rect","width":21.7,"height":21.4,"clip":true},"encoding":{"x":{"field":"x","type":"quantitative","scale":{"domain":[0,1],"nice":false},"axis":{"values":[0,0.2,0.4,0.6,0.8,1],"labels":false,"title":null}},"y":{"field":"y","type":"quantitative","scale":{"domain":[0,1],"nice":false},"axis":{"values":[0,0.2,0.4,0.6,0.8,1],"labels":false,"title":null}},"color":{"field":"v","type":"quantitative","scale":{"domain":[0,2.25,4.5,6],"range":["#0a0000","#ff0000","#ffff00","#ffffff"],"interpolate":"rgb"},"legend":null}}},
{"data":{"values":[{"x0":0.006,"x1":0.13,"y0":0.82,"y1":0.987}]},"mark":{"type":"rect","fill":"white"},"encoding":{"x":{"field":"x0","type":"quantitative","axis":{"orient":"top","values":[0,0.2,0.4,0.6,0.8,1],"labels":false,"title":null}},"x2":{"field":"x1"},"y":{"field":"y0","type":"quantitative","axis":{"orient":"right","values":[0,0.2,0.4,0.6,0.8,1],"labels":false,"title":null}},"y2":{"field":"y1"}}},
{"data":{"values":[{"t":"B","x":0.068,"y":0.905}]},"mark":{"type":"text","fontSize":32,"fontWeight":"bold","font":"DejaVu Sans","color":"black","baseline":"middle"},"encoding":{"x":{"field":"x","type":"quantitative","axis":null},"y":{"field":"y","type":"quantitative","axis":null},"text":{"field":"t"}}}
],"resolve":{"axis":{"x":"independent","y":"independent"}}},
{"spacing":0,"bounds":"flush","vconcat":[
{"width":27,"height":148,"data":{"values":[{"v":0}]},"mark":{"type":"text","text":""},"encoding":{}},
{"width":27,"height":336,"data":{"name":"bar"},"mark":{"type":"rect","height":6.4,"clip":true},"encoding":{"y":{"field":"v","type":"quantitative","scale":{"domain":[0,6],"nice":false},"axis":{"orient":"right","values":[0,3,6],"domain":false,"labelPadding":24,"labelFontSize":30,"title":null}},"color":{"field":"v","type":"quantitative","scale":{"domain":[0,2.25,4.5,6],"range":["#0a0000","#ff0000","#ffff00","#ffffff"],"interpolate":"rgb"},"legend":null}}}
]}
]}
]},
{"spacing":17,"bounds":"flush","hconcat":[
{"width":268,"height":265,"layer":[
{"data":{"name":"C"},"mark":{"type":"rect","width":21.6,"height":21.4,"clip":true},"encoding":{"x":{"field":"x","type":"quantitative","scale":{"domain":[0,1],"nice":false},"axis":{"values":[0,0.2,0.4,0.6,0.8,1],"labelPadding":17,"labelExpr":"datum.value==0||datum.value==1?datum.value:''","title":"x","titleFontSize":30,"titleX":134,"titleY":5}},"y":{"field":"y","type":"quantitative","scale":{"domain":[0,1],"nice":false},"axis":{"values":[0,0.2,0.4,0.6,0.8,1],"labelPadding":20,"labelExpr":"datum.value==0||datum.value==1?datum.value:''","title":"y","titleFontSize":30,"titleX":-11,"titleY":136}},"color":{"field":"v","type":"quantitative","scale":{"domain":[0,2.25,4.5,6],"range":["#0a0000","#ff0000","#ffff00","#ffffff"],"interpolate":"rgb"},"legend":null}}},
{"data":{"values":[{"x0":0.019,"x1":0.14,"y0":0.81,"y1":0.977}]},"mark":{"type":"rect","fill":"white"},"encoding":{"x":{"field":"x0","type":"quantitative","axis":{"orient":"top","values":[0,0.2,0.4,0.6,0.8,1],"labels":false,"title":null}},"x2":{"field":"x1"},"y":{"field":"y0","type":"quantitative","axis":{"orient":"right","values":[0,0.2,0.4,0.6,0.8,1],"labels":false,"title":null}},"y2":{"field":"y1"}}},
{"data":{"values":[{"t":"C","x":0.08,"y":0.895}]},"mark":{"type":"text","fontSize":32,"fontWeight":"bold","font":"DejaVu Sans","color":"black","baseline":"middle"},"encoding":{"x":{"field":"x","type":"quantitative","axis":{"orient":"bottom","ticks":false,"labels":false,"domain":false,"title":"|uₗ| for Vb=10 (z=0.5)","titleFontSize":34,"titleX":279,"titleY":52}},"y":{"field":"y","type":"quantitative","axis":null},"text":{"field":"t"}}}
],"resolve":{"axis":{"x":"independent","y":"independent"}}},
{"width":269,"height":265,"layer":[
{"data":{"name":"D"},"mark":{"type":"rect","width":41,"height":41,"clip":true},"encoding":{"x":{"field":"x","type":"quantitative","scale":{"domain":[0,1],"nice":false},"axis":{"values":[0,0.2,0.4,0.6,0.8,1],"labelPadding":17,"labelExpr":"datum.value==0||datum.value==1?datum.value:''","title":"x","titleFontSize":30,"titleX":134,"titleY":5}},"y":{"field":"y","type":"quantitative","scale":{"domain":[0,1],"nice":false},"axis":{"values":[0,0.2,0.4,0.6,0.8,1],"labels":false,"title":null}},"color":{"field":"v","type":"quantitative","scale":{"domain":[0,2.25,4.5,6],"range":["#0a0000","#ff0000","#ffff00","#ffffff"],"interpolate":"rgb"},"legend":null}}},
{"data":{"values":[{"x0":0.006,"x1":0.14,"y0":0.816,"y1":0.984}]},"mark":{"type":"rect","fill":"white"},"encoding":{"x":{"field":"x0","type":"quantitative","axis":{"orient":"top","values":[0,0.2,0.4,0.6,0.8,1],"labels":false,"title":null}},"x2":{"field":"x1"},"y":{"field":"y0","type":"quantitative","axis":{"orient":"right","values":[0,0.2,0.4,0.6,0.8,1],"labels":false,"title":null}},"y2":{"field":"y1"}}},
{"data":{"values":[{"t":"D","x":0.073,"y":0.9}]},"mark":{"type":"text","fontSize":32,"fontWeight":"bold","font":"DejaVu Sans","color":"black","baseline":"middle"},"encoding":{"x":{"field":"x","type":"quantitative","axis":null},"y":{"field":"y","type":"quantitative","axis":null},"text":{"field":"t"}}}
],"resolve":{"axis":{"x":"independent","y":"independent"}}}
]}
]}
]}
